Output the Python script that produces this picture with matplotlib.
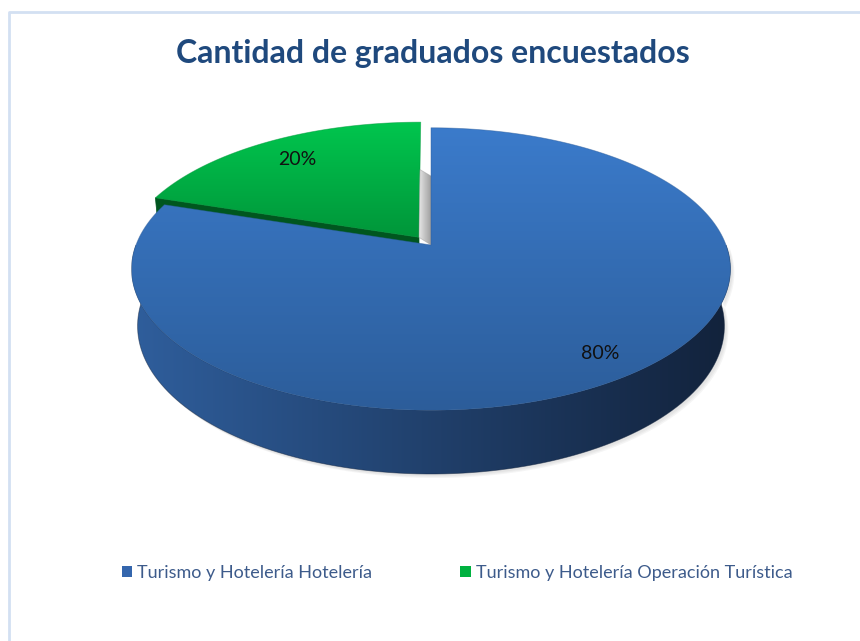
import numpy as np
from matplotlib import pyplot as plt
from matplotlib.patches import Polygon, Patch
from matplotlib.colors import LinearSegmentedColormap

# data
categories = ['Turismo y Hotelería Hotelería',
              'Turismo y Hotelería Operación Turística']
shares = [80, 20]
title = 'Cantidad de graduados encuestados'

plt.rcParams['font.family'] = ['Lato', 'DejaVu Sans']

# simple perspective camera for the 3d pie
elev = np.radians(27.7)
cam_d = 5.21
scale = 1537.0
cx, cy = 431.0, 245.0
height = 0.22
explode = [0.0, 0.07]
label_r = [0.86, 0.79]
s_e, c_e = np.sin(elev), np.cos(elev)


def proj(X, Y, Z):
    depth = cam_d + Y * c_e - Z * s_e
    up = Y * s_e + Z * c_e
    return np.column_stack([cx + scale * X / depth, cy - scale * up / depth])


def grad_fill(ax, verts, c1, c2, vertical=True, z=2):
    poly = Polygon(verts, closed=True, facecolor='none', edgecolor='none')
    ax.add_patch(poly)
    x0, y0 = verts.min(axis=0)
    x1, y1 = verts.max(axis=0)
    g = np.linspace(0, 1, 256)
    img = g.reshape(-1, 1) if vertical else g.reshape(1, -1)
    cmap = LinearSegmentedColormap.from_list('g', [c1, c2])
    im = ax.imshow(img, extent=(x0, x1, y1, y0), cmap=cmap, aspect='auto',
                   origin='upper', zorder=z, interpolation='bilinear')
    im.set_clip_path(poly)
    # soft outline to hide jagged clip edge
    ax.add_patch(Polygon(verts, closed=True, facecolor='none',
                         edgecolor=c2, lw=0.6, alpha=0.5, zorder=z + 0.1))


fig = plt.figure(figsize=(8.6, 6.41), dpi=100)
ax = fig.add_axes([0, 0, 1, 1])
ax.axis('off')

# chart border (only top and left are inside the crop)
ax.plot([9, 9, 860], [641, 12, 12], color='#d3e0f2', lw=2, zorder=1)

ax.text(433, 53, title, ha='center', va='center', fontsize=23,
        fontweight='bold', color='#1f497d')

total = float(sum(shares))
bounds = np.cumsum([0] + shares) / total * 2 * np.pi  # clockwise from top

# green slice (behind)
a0, a1 = bounds[1], bounds[2]
mid = (a0 + a1) / 2
ox, oy = explode[1] * np.sin(mid), explode[1] * np.cos(mid)
phi = np.linspace(a0, a1, 80)
top = np.vstack([proj(np.array([ox]), np.array([oy]), np.array([0.0])),
                 proj(np.sin(phi) + ox, np.cos(phi) + oy, np.zeros_like(phi))])
# cut face toward the blue slice
face = np.vstack([
    proj(np.array([ox, np.sin(a0) + ox, np.sin(a0) + ox, ox]),
         np.array([oy, np.cos(a0) + oy, np.cos(a0) + oy, oy]),
         np.array([0.0, 0.0, -height, -height]))])
ax.add_patch(Polygon(face, closed=True, facecolor='#00561f',
                     edgecolor='#00561f', lw=0.5, zorder=2))
grad_fill(ax, top, '#00c64e', '#00963a', z=3)

# small grey shadow in the gap between slices
t = np.array([0.0, 0.55])
gap = np.vstack([proj(np.zeros(2), t, np.zeros(2)),
                 proj(ox * np.ones(2), t[::-1] + oy, np.zeros(2))])
grad_fill(ax, gap, '#e6e6e6', '#9a9a9a', vertical=False, z=3.5)

# blue slice (front)
a0, a1 = bounds[0], bounds[1]
phi_s = np.linspace(np.pi / 2, 3 * np.pi / 2, 120)
side = np.vstack([
    proj(np.sin(phi_s), np.cos(phi_s), np.zeros_like(phi_s)),
    proj(np.sin(phi_s[::-1]), np.cos(phi_s[::-1]),
         -height * np.ones_like(phi_s))])

# faint drop shadow under the pie
for k, al in enumerate([0.05, 0.05, 0.06]):
    sh = side.copy()
    sh[:, 0] += 2 + k
    sh[:, 1] += 2 + k
    ax.add_patch(Polygon(sh, closed=True, facecolor='#555555',
                         edgecolor='none', alpha=al, zorder=3.6))

grad_fill(ax, side, '#2f5e9c', '#12223b', vertical=False, z=4)
phi = np.linspace(a0, a1, 240)
top = np.vstack([proj(np.array([0.0]), np.array([0.0]), np.array([0.0])),
                 proj(np.sin(phi), np.cos(phi), np.zeros_like(phi))])
grad_fill(ax, top, '#3b7bcb', '#2c5d9a', z=5)

# percentage labels
for i, v in enumerate(shares):
    m = (bounds[i] + bounds[i + 1]) / 2
    r = label_r[i]
    lx = r * np.sin(m) + explode[i] * np.sin(m)
    ly = r * np.cos(m) + explode[i] * np.cos(m)
    p = proj(np.array([lx]), np.array([ly]), np.array([0.0]))[0]
    ax.text(p[0], p[1], f'{v}%', ha='center', va='center', fontsize=14,
            color='#111111', zorder=6)

handles = [Patch(facecolor='#3466ad', edgecolor='none'),
           Patch(facecolor='#00b140', edgecolor='none')]
ax.legend(handles, categories, loc='center', bbox_to_anchor=(457 / 860, 1 - 573 / 641),
          ncol=2, frameon=False, fontsize=13, labelcolor='#3d5b8b',
          handlelength=0.6, handleheight=0.6, handletextpad=0.25,
          columnspacing=4.9)

ax.set_xlim(0, 860)
ax.set_ylim(641, 0)
fig.savefig('out.png', dpi=100)
